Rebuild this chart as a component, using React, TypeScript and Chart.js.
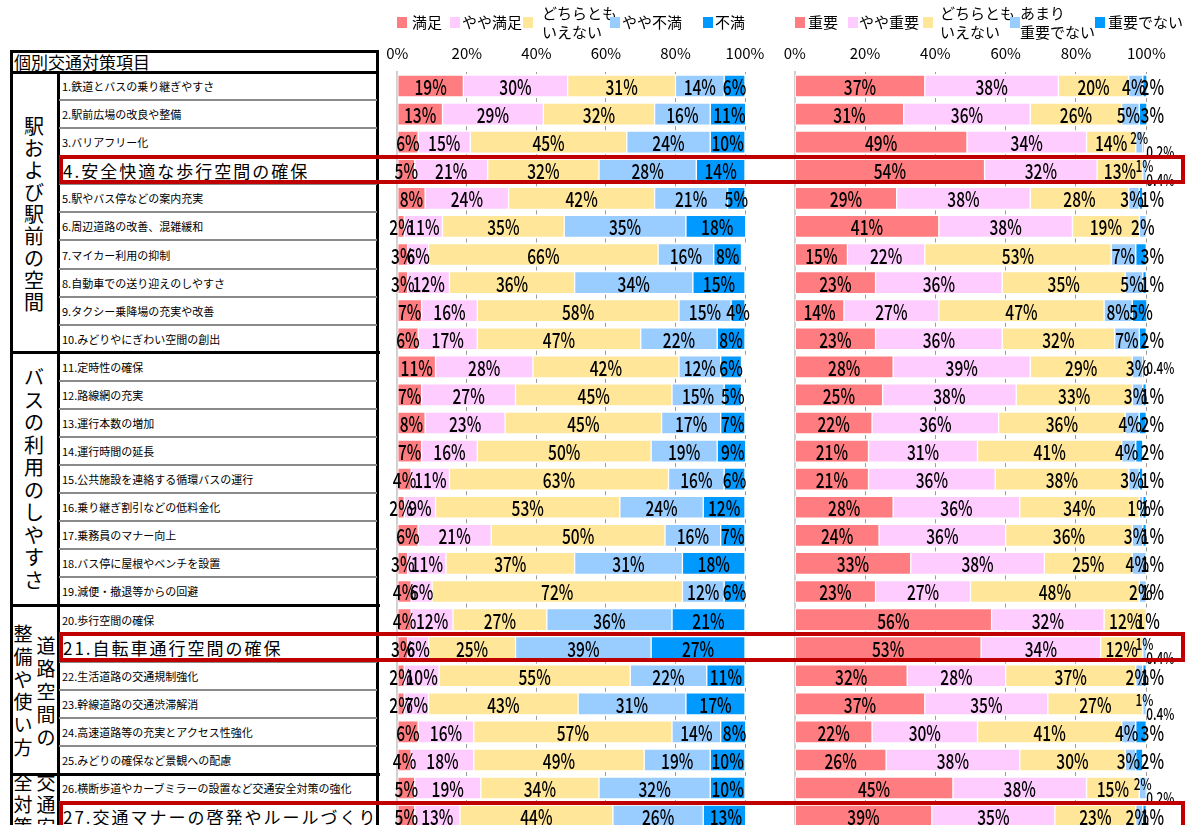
import React, { useEffect, useRef } from "react";
import { Chart, registerables } from "chart.js";

Chart.register(...registerables);

const FONT = '"Noto Sans CJK JP", "Noto Sans", sans-serif';

// ---------- data ----------
const itemLabels = [
  "1.鉄道とバスの乗り継ぎやすさ",
  "2.駅前広場の改良や整備",
  "3.バリアフリー化",
  "4.安全快適な歩行空間の確保",
  "5.駅やバス停などの案内充実",
  "6.周辺道路の改善、混雑緩和",
  "7.マイカー利用の抑制",
  "8.自動車での送り迎えのしやすさ",
  "9.タクシー乗降場の充実や改善",
  "10.みどりやにぎわい空間の創出",
  "11.定時性の確保",
  "12.路線網の充実",
  "13.運行本数の増加",
  "14.運行時間の延長",
  "15.公共施設を連絡する循環バスの運行",
  "16.乗り継ぎ割引などの低料金化",
  "17.乗務員のマナー向上",
  "18.バス停に屋根やベンチを設置",
  "19.減便・撤退等からの回避",
  "20.歩行空間の確保",
  "21.自転車通行空間の確保",
  "22.生活道路の交通規制強化",
  "23.幹線道路の交通渋滞解消",
  "24.高速道路等の充実とアクセス性強化",
  "25.みどりの確保など景観への配慮",
  "26.横断歩道やカーブミラーの設置など交通安全対策の強化",
  "27.交通マナーの啓発やルールづくり",
];
const highlightedItems = [4, 21, 27];

const headerTitle = "個別交通対策項目";
const groupTitles = ["駅および駅前の空間", "バスの利用のしやすさ", "道路空間の", "整備や使い方", "交通安", "全対策"];

const satisfactionNames = ["満足", "やや満足", "どちらとも\nいえない", "やや不満", "不満"];
const importanceNames = ["重要", "やや重要", "どちらとも\nいえない", "あまり\n重要でない", "重要でない"];

const satisfied = [19, 13, 6, 5, 8, 2, 3, 3, 7, 6, 11, 7, 8, 7, 4, 2, 6, 3, 4, 4, 3, 2, 2, 6, 4, 5, 5];
const somewhatSatisfied = [30, 29, 15, 21, 24, 11, 6, 12, 16, 17, 28, 27, 23, 16, 11, 9, 21, 11, 6, 12, 6, 10, 7, 16, 18, 19, 13];
const neutralSatisfaction = [31, 32, 45, 32, 42, 35, 66, 36, 58, 47, 42, 45, 45, 50, 63, 53, 50, 37, 72, 27, 25, 55, 43, 57, 49, 34, 44];
const somewhatDissatisfied = [14, 16, 24, 28, 21, 35, 16, 34, 15, 22, 12, 15, 17, 19, 16, 24, 16, 31, 12, 36, 39, 22, 31, 14, 19, 32, 26];
const dissatisfied = [6, 11, 10, 14, 5, 18, 8, 15, 4, 8, 6, 5, 7, 9, 6, 12, 7, 18, 6, 21, 27, 11, 17, 8, 10, 10, 13];

const important = [37, 31, 49, 54, 29, 41, 15, 23, 14, 23, 28, 25, 22, 21, 21, 28, 24, 33, 23, 56, 53, 32, 37, 22, 26, 45, 39];
const somewhatImportant = [38, 36, 34, 32, 38, 38, 22, 36, 27, 36, 39, 38, 36, 31, 36, 36, 36, 38, 27, 32, 34, 28, 35, 30, 38, 38, 35];
const neutralImportance = [20, 26, 14, 13, 28, 19, 53, 35, 47, 32, 29, 33, 36, 41, 38, 34, 36, 25, 48, 12, 12, 37, 27, 41, 30, 15, 23];
const notVeryImportant = [4, 5, 2, 1, 3, 2, 7, 5, 8, 7, 3, 3, 4, 4, 3, 1, 3, 4, 2, 1, 1, 2, 1, 4, 3, 2, 2];
const notImportant = [2, 3, 0.2, 0.4, 1, 0, 3, 1, 5, 2, 0.4, 1, 2, 2, 1, 1, 1, 1, 1, 0, 0.4, 1, 0.4, 3, 2, 0.2, 1];

const segmentColors = ["#FF7C80", "#FFCCFF", "#FFE699", "#99CCFF", "#0099FF"];

// ---------- layout ----------
const TOP = 72;
const PITCH = 28.08;
const N = itemLabels.length;
const CANVAS_H = 862;
const BOTTOM_PAD = CANVAS_H - TOP - N * PITCH;

function labelPlugin(side: "left" | "right") {
  return {
    id: "segLabels" + side,
    afterDatasetsDraw(chart: any) {
      const ctx = chart.ctx;
      const end100 = chart.scales.x.getPixelForValue(100);
      const dss = chart.data.datasets;
      dss.forEach((ds: any, di: number) => {
        const meta = chart.getDatasetMeta(di);
        meta.data.forEach((bar: any, i: number) => {
          const v = ds.data[i] as number;
          if (!v) return;
          const p = bar.getProps(["x", "y", "base"], true);
          let cx = (p.x + p.base) / 2;
          let cy = p.y;
          let size = 21;
          if (side === "right") {
            const v4 = dss[3].data[i] as number;
            const v5 = dss[4].data[i] as number;
            const dec5 = !Number.isInteger(v5);
            if (di === 4) {
              if (dec5) {
                cx = end100 + 14;
                size = 16;
                if (v4 <= 2) cy += 9;
              } else if (v < 4) {
                cx = end100 + 6;
              }
            } else if (di === 3) {
              if (dec5 && v4 <= 2) {
                cy -= 5;
                size = 16;
              } else if (v4 <= 5 && v5 >= 1) {
                cx -= 2;
              }
            }
          }
          ctx.save();
          ctx.translate(cx, cy + 1);
          ctx.scale(0.74, 1);
          ctx.font = `500 ${size}px ${FONT}`;
          ctx.fillStyle = "#000";
          ctx.textAlign = "center";
          ctx.textBaseline = "middle";
          ctx.fillText(`${v}%`, 0, 0);
          ctx.restore();
        });
      });
    },
  };
}

function StackedChart(props: {
  series: number[][];
  names: string[];
  left: number;
  width: number;
  padLeft: number;
  padRight: number;
  side: "left" | "right";
}) {
  const ref = useRef<HTMLCanvasElement>(null);
  useEffect(() => {
    const chart = new Chart(ref.current as HTMLCanvasElement, {
      type: "bar",
      data: {
        labels: itemLabels,
        datasets: props.series.map((d, i) => ({
          label: props.names[i].replace("\n", ""),
          data: d,
          backgroundColor: segmentColors[i],
          borderColor: "#ffffff",
          borderWidth: 1,
          borderSkipped: false,
          barThickness: 22,
        })),
      },
      options: {
        indexAxis: "y",
        responsive: false,
        animation: false,
        layout: { padding: { left: props.padLeft, right: props.padRight, top: 0, bottom: BOTTOM_PAD } },
        plugins: { legend: { display: false }, tooltip: { enabled: false } },
        scales: {
          x: {
            position: "top",
            stacked: true,
            min: 0,
            max: 100,
            ticks: {
              stepSize: 20,
              padding: 0,
              color: "#000",
              font: { family: FONT, size: 15 },
              maxRotation: 0,
              callback: (v: any) => `${v}%`,
            },
            grid: {
              drawTicks: true,
              tickLength: 10,
              tickColor: "rgba(0,0,0,0)",
              color: "#9a9a9a",
              lineWidth: 1,
            },
            border: { display: false, dash: [4, PITCH - 4], dashOffset: 2 },
            afterFit: (s: any) => {
              s.height = TOP;
            },
          },
          y: {
            stacked: true,
            ticks: { display: false },
            grid: { display: false, drawTicks: false },
            border: { display: true, color: "#d0d0d0", width: 2 },
            afterFit: (s: any) => {
              s.width = 0;
            },
          },
        },
      } as any,
      plugins: [labelPlugin(props.side)],
    });
    return () => chart.destroy();
  }, []);
  return (
    <canvas
      ref={ref}
      width={props.width}
      height={CANVAS_H}
      style={{ position: "absolute", left: props.left, top: 0, width: props.width, height: CANVAS_H }}
    />
  );
}

function Legend(props: { names: string[]; layout: { sq: number; tx: number }[] }) {
  return (
    <>
      {props.names.map((n, i) => {
        const lines = n.split("\n");
        const L = props.layout[i];
        return (
          <React.Fragment key={i}>
            <div
              style={{ position: "absolute", left: L.sq, top: 17, width: 10, height: 11, background: segmentColors[i] }}
            />
            <div
              style={{
                position: "absolute",
                left: L.tx,
                top: lines.length > 1 ? 3 : 12,
                fontSize: 15,
                lineHeight: "19px",
                whiteSpace: "pre",
              }}
            >
              {lines.join("\n")}
            </div>
          </React.Fragment>
        );
      })}
    </>
  );
}

function VChars(props: { text: string; cx: number; startY: number; step: number; size: number }) {
  return (
    <>
      {Array.from(props.text).map((c, i) => (
        <div
          key={i}
          style={{
            position: "absolute",
            left: props.cx - 15,
            width: 30,
            top: props.startY + i * props.step - 15,
            height: 30,
            lineHeight: "30px",
            textAlign: "center",
            fontSize: props.size,
          }}
        >
          {c}
        </div>
      ))}
    </>
  );
}

function ItemTable() {
  const groupEnds = [10, 19, 25];
  const lines: React.ReactNode[] = [];
  for (let k = 1; k < N; k++) {
    const y = TOP + k * PITCH;
    if (groupEnds.includes(k)) {
      lines.push(
        <div key={"g" + k} style={{ position: "absolute", left: 10, width: 370, top: y - 1.5, height: 3, background: "#000" }} />
      );
    } else {
      lines.push(
        <div key={"r" + k} style={{ position: "absolute", left: 59, width: 318, top: y - 1, height: 2, background: "#8a8a8a" }} />
      );
    }
  }
  return (
    <>
      <div
        style={{
          position: "absolute",
          left: 10,
          top: 50,
          width: 369,
          height: 900,
          border: "3px solid #000",
          boxSizing: "border-box",
        }}
      />
      <div style={{ position: "absolute", left: 10, top: 70.5, width: 369, height: 3, background: "#000" }} />
      <div style={{ position: "absolute", left: 56.5, top: 72, width: 3, height: 900, background: "#000" }} />
      <div style={{ position: "absolute", left: 14, top: 51, height: 22, lineHeight: "22px", fontSize: 17 }}>{headerTitle}</div>
      {lines}
      {itemLabels.map((t, i) => {
        const hl = highlightedItems.includes(i + 1);
        return (
          <div
            key={i}
            style={{
              position: "absolute",
              left: hl ? 63 : 62,
              top: TOP + i * PITCH,
              height: PITCH,
              display: "flex",
              alignItems: "center",
              fontSize: hl ? 17 : 11,
              letterSpacing: hl ? "2px" : "0px",
              whiteSpace: "nowrap",
            }}
          >
            {t}
          </div>
        );
      })}
      <VChars text={groupTitles[0]} cx={34} startY={126} step={22} size={20} />
      <VChars text={groupTitles[1]} cx={34} startY={377} step={22.5} size={20} />
      <VChars text={groupTitles[2]} cx={46} startY={645} step={23} size={19} />
      <VChars text={groupTitles[3]} cx={23} startY={633} step={22.8} size={19} />
      <VChars text={groupTitles[4]} cx={46} startY={782} step={22} size={19} />
      <VChars text={groupTitles[5]} cx={23} startY={782} step={22} size={19} />
    </>
  );
}

export default function App() {
  return (
    <div
      style={{
        position: "fixed",
        left: 0,
        top: 0,
        width: 1189,
        height: 825,
        overflow: "hidden",
        background: "#fff",
        fontFamily: FONT,
        color: "#000",
      }}
    >
      <ItemTable />
      <StackedChart
        side="left"
        series={[satisfied, somewhatSatisfied, neutralSatisfaction, somewhatDissatisfied, dissatisfied]}
        names={satisfactionNames}
        left={380}
        width={400}
        padLeft={17.3}
        padRight={35}
      />
      <StackedChart
        side="right"
        series={[important, somewhatImportant, neutralImportance, notVeryImportant, notImportant]}
        names={importanceNames}
        left={780}
        width={409}
        padLeft={14.7}
        padRight={42.7}
      />
      <Legend
        names={satisfactionNames}
        layout={[
          { sq: 397, tx: 412 },
          { sq: 450, tx: 462 },
          { sq: 523, tx: 542 },
          { sq: 610, tx: 622 },
          { sq: 703, tx: 715 },
        ]}
      />
      <Legend
        names={importanceNames}
        layout={[
          { sq: 795, tx: 808 },
          { sq: 848, tx: 859 },
          { sq: 923, tx: 940 },
          { sq: 1010, tx: 1020 },
          { sq: 1095, tx: 1108 },
        ]}
      />
      {highlightedItems.map((r) => (
        <div
          key={r}
          style={{
            position: "absolute",
            left: 59,
            top: TOP + (r - 1) * PITCH - 1.5,
            width: 1126,
            height: PITCH + 1.5,
            border: "4px solid #C00000",
            boxSizing: "border-box",
            pointerEvents: "none",
          }}
        />
      ))}
    </div>
  );
}
